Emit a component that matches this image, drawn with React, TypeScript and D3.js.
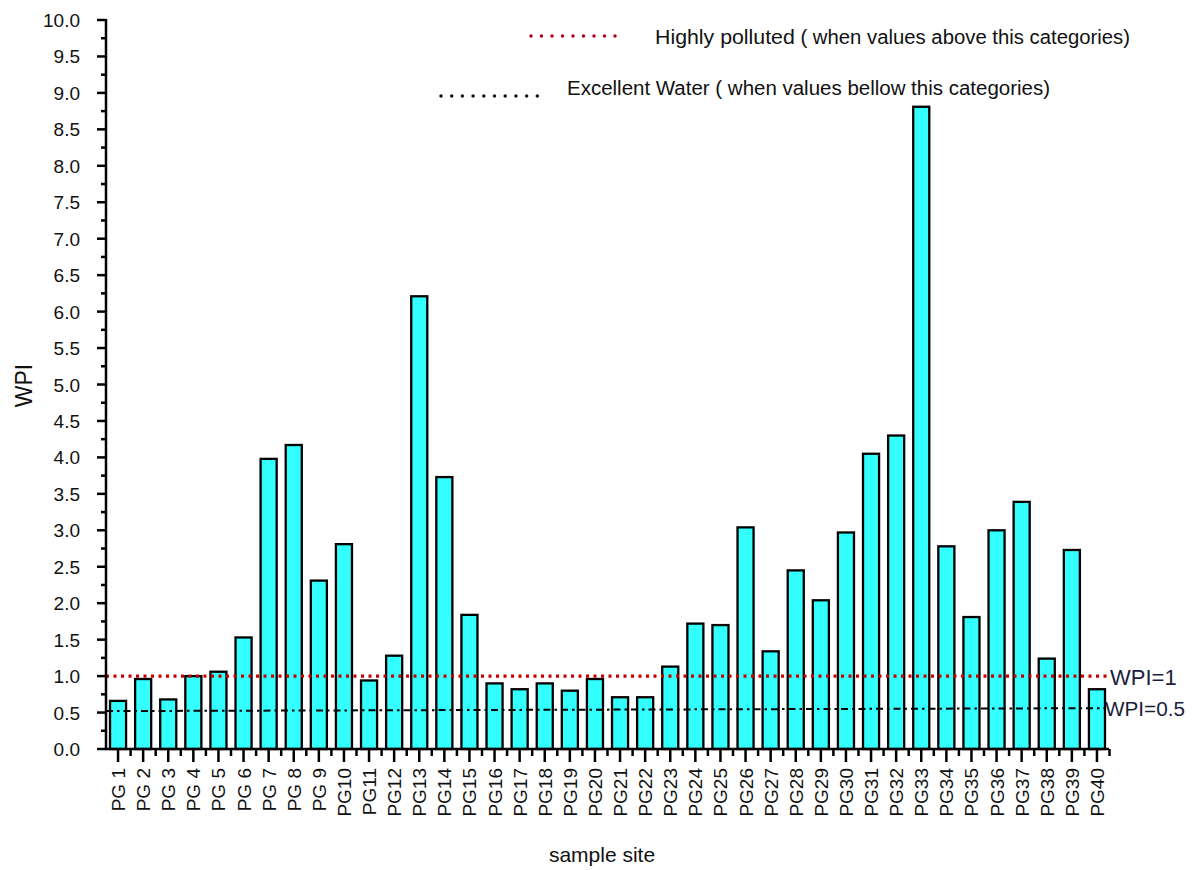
import React from "react";
import * as d3 from "d3";

// Water Pollution Index per sampling site
const sites = [
  "PG 1", "PG 2", "PG 3", "PG 4", "PG 5", "PG 6", "PG 7", "PG 8", "PG 9", "PG10",
  "PG11", "PG12", "PG13", "PG14", "PG15", "PG16", "PG17", "PG18", "PG19", "PG20",
  "PG21", "PG22", "PG23", "PG24", "PG25", "PG26", "PG27", "PG28", "PG29", "PG30",
  "PG31", "PG32", "PG33", "PG34", "PG35", "PG36", "PG37", "PG38", "PG39", "PG40",
];
const wpi = [
  0.66, 0.96, 0.68, 1.0, 1.06, 1.53, 3.98, 4.17, 2.31, 2.81,
  0.94, 1.28, 6.21, 3.73, 1.84, 0.9, 0.82, 0.9, 0.8, 0.96,
  0.71, 0.71, 1.13, 1.72, 1.7, 3.04, 1.34, 2.45, 2.04, 2.97,
  4.05, 4.3, 8.81, 2.78, 1.81, 3.0, 3.39, 1.24, 2.73, 0.82,
];
const yTicks = [0, 0.5, 1, 1.5, 2, 2.5, 3, 3.5, 4, 4.5, 5, 5.5, 6, 6.5, 7, 7.5, 8, 8.5, 9, 9.5, 10];
const yMinorTicks = [0.25, 0.75, 1.25, 1.75, 2.25, 2.75, 3.25, 3.75, 4.25, 4.75, 5.25, 5.75, 6.25, 6.75, 7.25, 7.75, 8.25, 8.75, 9.25, 9.75];
// threshold lines: highly polluted (WPI = 1) and excellent water (WPI ≈ 0.5, drawn slightly sloped)
const pollutedLevel = [1.0, 1.0];
const excellentLevel = [0.52, 0.56];

const W = 1194;
const H = 870;
const FONT = "Arial, 'Liberation Sans', Helvetica, sans-serif";

export default function App() {
  const x = d3.scaleBand<string>().domain(sites).range([106, 1109]).paddingInner(0.36).paddingOuter(0.16);
  const y = d3.scaleLinear().domain([0, 10]).range([749, 20]);
  const x0 = 106;
  const x1 = 1109;
  const step = x.step();

  const lineGen = d3.line<[number, number]>().x((d) => d[0]).y((d) => y(d[1]));

  return (
    <svg width={W} height={H} style={{ position: "absolute", left: 0, top: 0, background: "#fff" }} fontFamily={FONT}>
      {/* bars */}
      {sites.map((s, i) => (
        <rect
          key={s}
          x={x(s)}
          y={y(wpi[i])}
          width={x.bandwidth()}
          height={y(0) - y(wpi[i])}
          fill="#33ffff"
          stroke="#000"
          strokeWidth={2.3}
        />
      ))}

      {/* threshold lines */}
      <path
        d={lineGen([[x0, pollutedLevel[0]], [x1, pollutedLevel[1]]])!}
        stroke="#c80000"
        strokeWidth={3.2}
        strokeDasharray="3 4.5"
        fill="none"
      />
      <path
        d={lineGen([[x0, excellentLevel[0]], [x1 - 4, excellentLevel[1]]])!}
        stroke="#000"
        strokeWidth={2}
        strokeDasharray="7 4 2.5 4"
        fill="none"
      />
      <text x={1110} y={y(1) + 9} fontSize={22} fill="#1c1c3c">WPI=1</text>
      <text x={1105} y={y(0.56) + 8} fontSize={20} fill="#1c1c3c" textLength={80} lengthAdjust="spacingAndGlyphs">WPI=0.5</text>

      {/* y axis */}
      <line x1={x0} x2={x0} y1={y(10) - 1} y2={y(0) + 1} stroke="#000" strokeWidth={2.5} />
      {yTicks.map((t) => (
        <g key={t}>
          <line x1={x0 - 9} x2={x0} y1={y(t)} y2={y(t)} stroke="#000" strokeWidth={2.5} />
          <text x={x0 - 26} y={y(t) + 7} fontSize={19} textAnchor="end" fill="#111">
            {t.toFixed(1)}
          </text>
        </g>
      ))}
      {yMinorTicks.map((t) => (
        <line key={t} x1={x0 - 5} x2={x0} y1={y(t)} y2={y(t)} stroke="#000" strokeWidth={2.5} />
      ))}
      <text transform={`translate(32, ${y(5) + 1}) rotate(-90)`} fontSize={23} textAnchor="middle" fill="#111">
        WPI
      </text>

      {/* x axis */}
      <line x1={x0 - 1} x2={x1} y1={y(0)} y2={y(0)} stroke="#000" strokeWidth={2.5} />
      {sites.map((s) => {
        const cx = (x(s) as number) + x.bandwidth() / 2;
        return (
          <g key={s}>
            <line x1={cx} x2={cx} y1={y(0)} y2={y(0) + 13} stroke="#000" strokeWidth={2.5} />
            <line x1={cx + step / 2} x2={cx + step / 2} y1={y(0)} y2={y(0) + 7} stroke="#000" strokeWidth={2.5} />
            <text
              transform={`translate(${cx + 7}, ${y(0) + 19}) rotate(-90)`}
              fontSize={19}
              textAnchor="end"
              fill="#111"
            >
              {s}
            </text>
          </g>
        );
      })}
      <text x={602} y={862} fontSize={21} textAnchor="middle" fill="#111">sample site</text>

      {/* legend */}
      <line x1={531} x2={625} y1={36} y2={36} stroke="#b00020" strokeWidth={3.5} strokeLinecap="round" strokeDasharray="0 10.5" />
      <text x={655} y={44} fontSize={20} fill="#111" textLength={475} lengthAdjust="spacingAndGlyphs">
        <tspan fontSize={21}>Highly polluted</tspan>
        <tspan> ( when values above this categories)</tspan>
      </text>
      <line x1={441} x2={538} y1={96} y2={96} stroke="#111" strokeWidth={3.5} strokeLinecap="round" strokeDasharray="0 10.7" />
      <text x={567} y={95} fontSize={20} fill="#111" textLength={483} lengthAdjust="spacingAndGlyphs">
        Excellent Water ( when values bellow this categories)
      </text>
    </svg>
  );
}
